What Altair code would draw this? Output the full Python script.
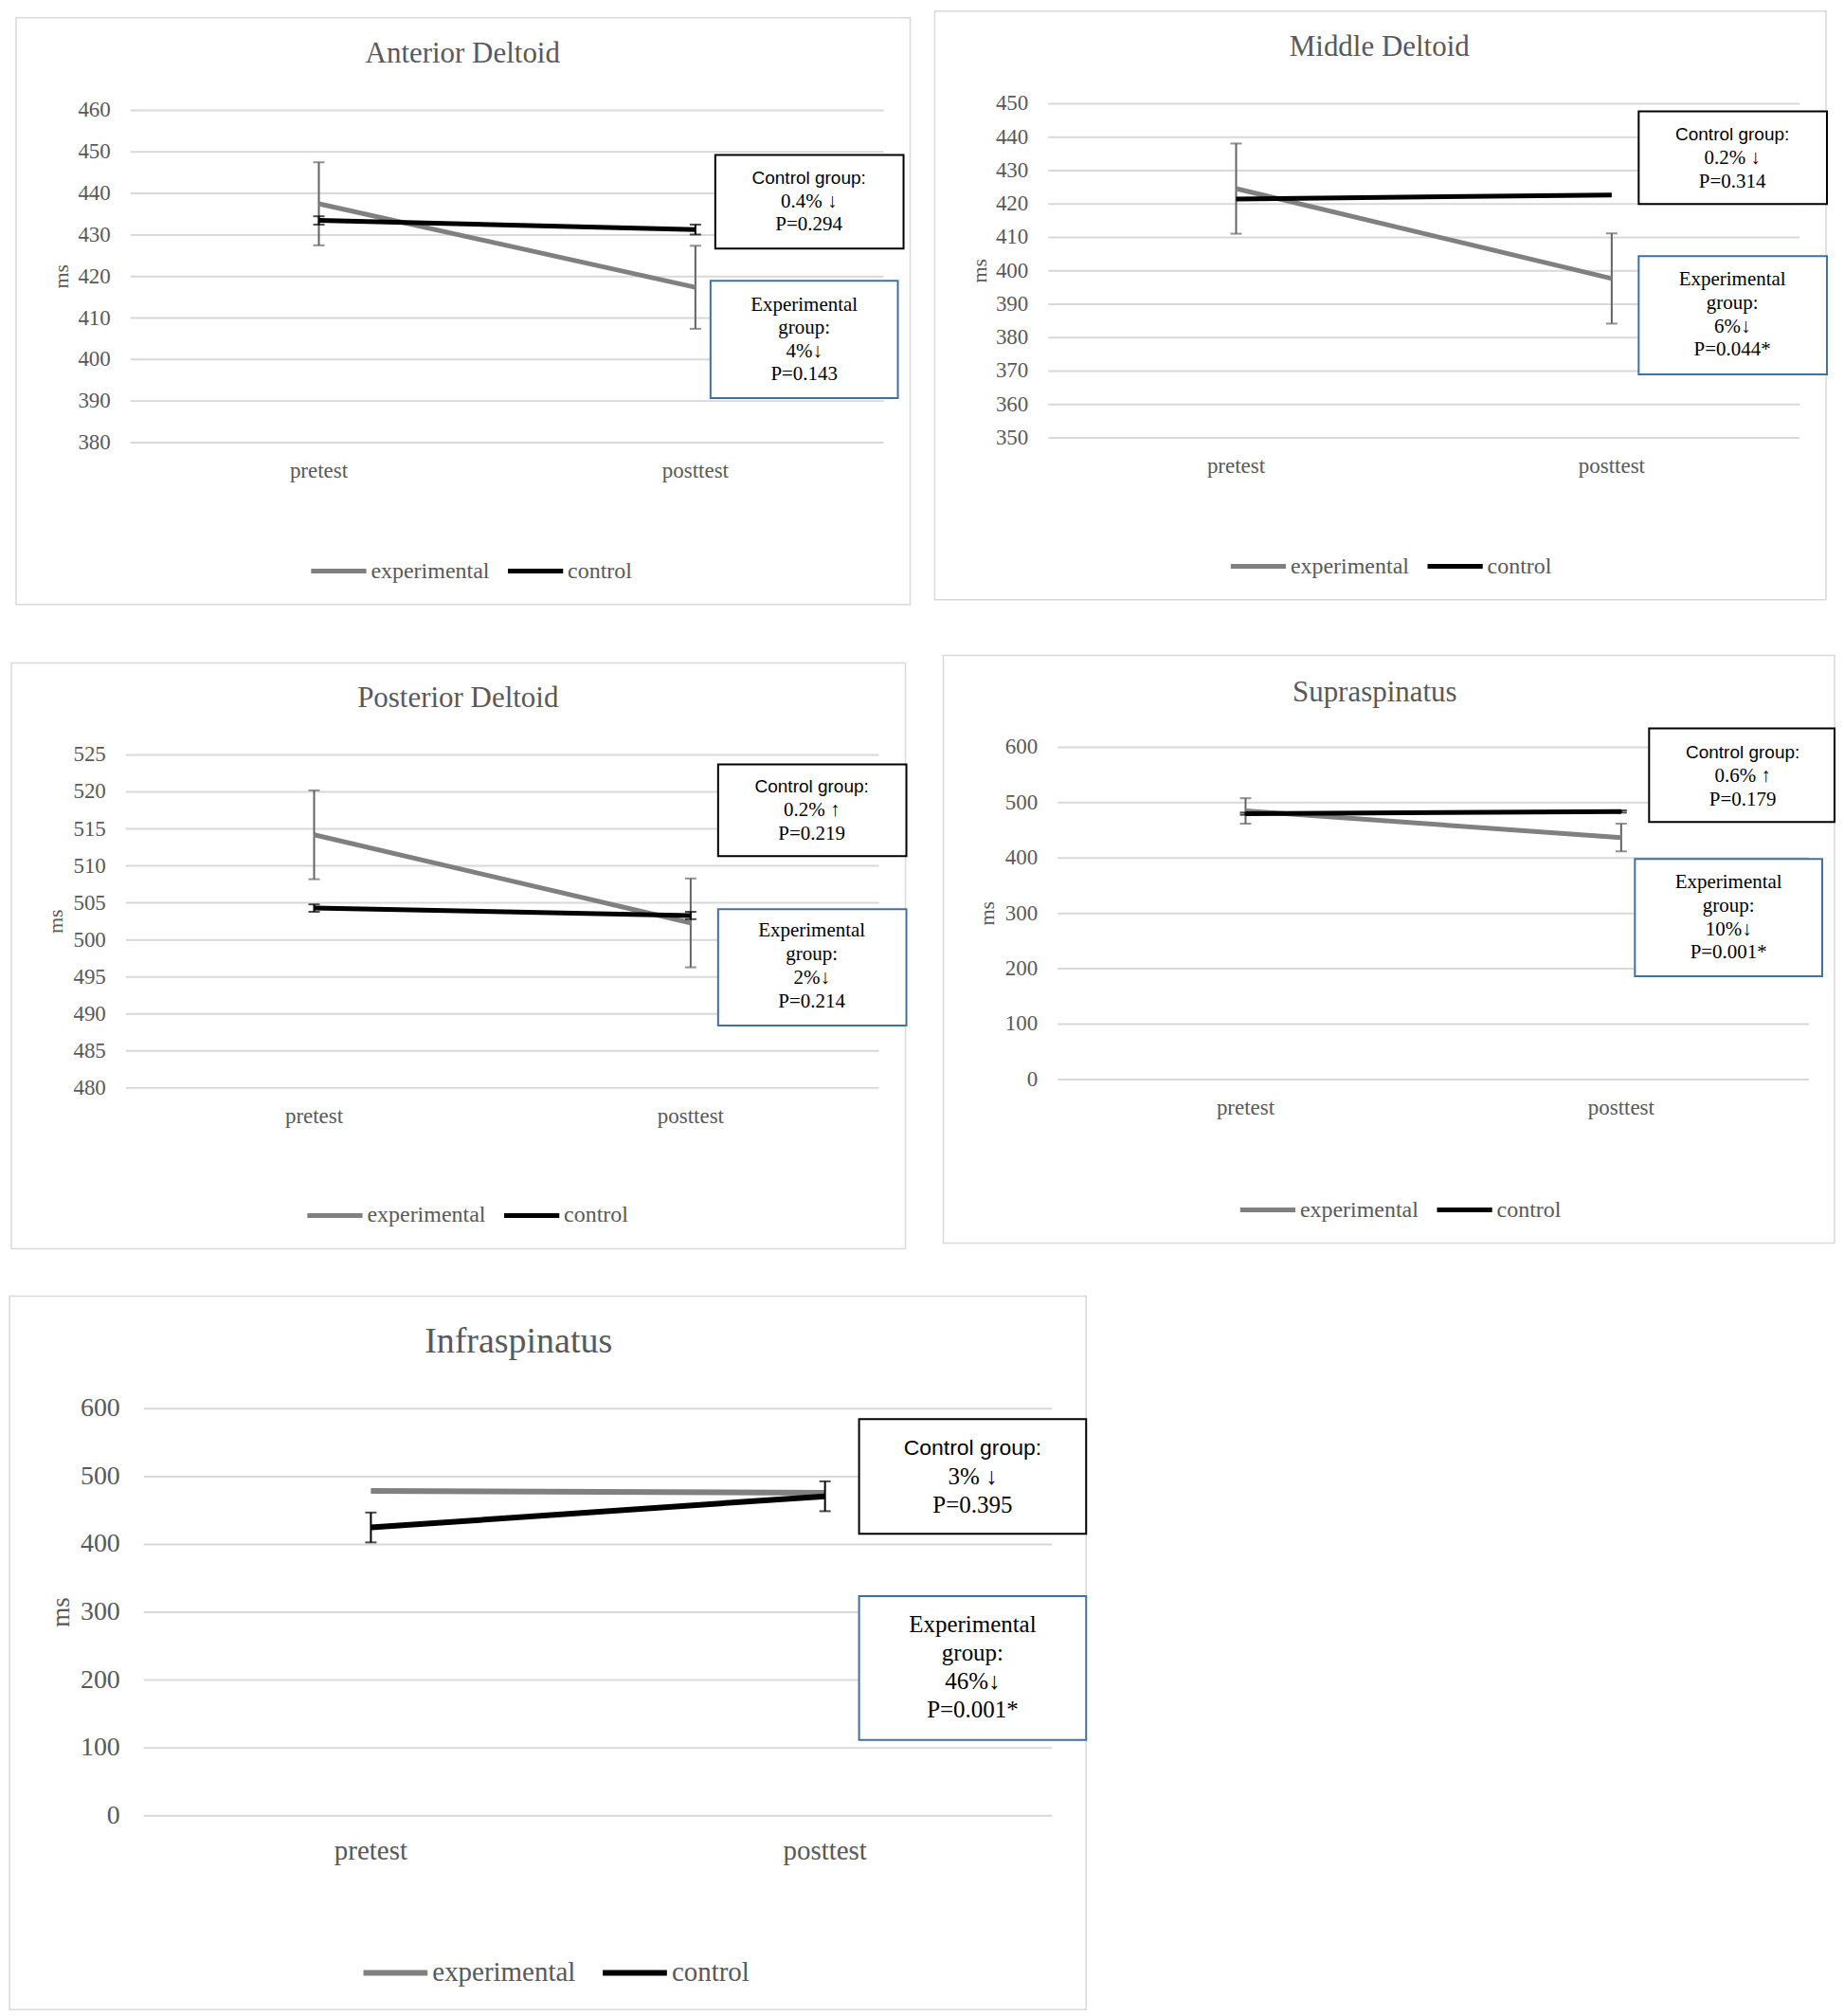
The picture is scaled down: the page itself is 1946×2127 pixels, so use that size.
import altair as alt
import pandas as pd

# ---------------- data ----------------
muscles = ["Anterior Deltoid", "Middle Deltoid", "Posterior Deltoid", "Supraspinatus", "Infraspinatus"]
phases = ["pretest", "posttest"]
groups = ["experimental", "control"]

exp_mean = [[437.5, 417.4], [424.6, 397.7], [514.2, 502.3], [485.0, 437.0], [479.0, 476.0]]
exp_err = [[10.0, 10.0], [13.5, 13.5], [6.0, 6.0], [23.0, 25.0], [0.0, 0.0]]
ctrl_mean = [[433.5, 431.3], [421.5, 422.7], [504.3, 503.3], [480.0, 484.0], [425.0, 471.0]]
ctrl_err = [[1.0, 1.2], [0.0, 0.0], [0.5, 0.5], [2.0, 2.0], [22.0, 22.0]]

y_min = [380, 350, 480, 0, 0]
y_max = [460, 450, 525, 600, 600]
y_step = [10, 10, 5, 100, 100]

ctrl_notes = [
    ["Control group:", "0.4% ↓", "P=0.294"],
    ["Control group:", "0.2% ↓", "P=0.314"],
    ["Control group:", "0.2% ↑", "P=0.219"],
    ["Control group:", "0.6% ↑", "P=0.179"],
    ["Control group:", "3% ↓", "P=0.395"],
]
exp_notes = [
    ["Experimental", "group:", "4%↓", "P=0.143"],
    ["Experimental", "group:", "6%↓", "P=0.044*"],
    ["Experimental", "group:", "2%↓", "P=0.214"],
    ["Experimental", "group:", "10%↓", "P=0.001*"],
    ["Experimental", "group:", "46%↓", "P=0.001*"],
]

# ---------------- layout (page pixels) ----------------
SERIF = "Liberation Serif"
SANS = "Liberation Sans"
GRAY = "#595959"
GRID = "#d9d9d9"

TILE = [(8, 8, 973, 662), (973, 8, 1937, 662), (8, 662, 975, 1339),
        (975, 662, 1937, 1339), (8, 1339, 1150, 2119)]
PLOT = [(137, 114, 933, 465), (1105, 107, 1899, 460), (132, 793, 928, 1145),
        (1115, 785, 1909, 1136), (151, 1482, 1111, 1912)]
BORDER = [(16, 16, 961, 636), (985, 9, 1927, 631), (11, 696, 956, 1315),
          (994, 688, 1936, 1309), (9, 1363, 1147, 2117)]
TITLE = [(488, 54), (1455, 47), (483, 734), (1450, 727), (547, 1412)]
CBOX = [(755, 161, 954, 260), (1729, 115, 1928, 213), (758, 803, 957, 900),
        (1740, 765, 1936, 864), (907, 1493, 1147, 1614)]
EBOX = [(750, 294, 948, 418), (1729, 268, 1928, 393), (758, 956, 957, 1079),
        (1725, 903, 1923, 1027), (907, 1680, 1147, 1832)]
CLINES = [(854, [186, 211, 235]), (1828, [140, 165, 190]), (857, [827, 852, 877]),
          (1839, [791, 816, 841]), (1027, [1524, 1554, 1584])]
ELINES = [(849, [320, 344, 369, 393]), (1828, [293, 318, 343, 367]),
          (857, [979, 1004, 1029, 1054]), (1824, [928, 953, 978, 1002]),
          (1027, [1710, 1740, 1770, 1800])]
LEGEND = [(325, 598), (1295, 593), (321, 1277), (1305, 1271), (380, 2075)]
MS_X = [64, 1033, 58, 1041, 64]

SMALL = dict(fs=23, xfs=23, tfs=31, lfs=24, msfs=22, nfs=21, sfs=19, sym=3400, sw=5,
             ygap=21, xgap=30, cpad=8)
BIG = dict(fs=28, xfs=29, tfs=38, lfs=29, msfs=27, nfs=25, sfs=23, sym=4600, sw=6,
           ygap=25, xgap=37, cpad=16)
STYLE = [SMALL, SMALL, SMALL, SMALL, BIG]

EN = "\u2002"
LABEL_EXPR = "datum.label == 'control' ? '" + EN * 3 + "control' : datum.label"

one = pd.DataFrame({"k": [0]})


def panel(i):
    tx0, ty0, tx1, ty1 = TILE[i]
    st = STYLE[i]

    def X(v):
        return v - tx0

    def Y(v):
        return v - ty0

    px0, py0, px1, py1 = PLOT[i]

    def rect(b, **kw):
        return alt.Chart(one).mark_rect(**kw).encode(
            x=alt.value(X(b[0])), x2=alt.value(X(b[2])),
            y=alt.value(Y(b[1])), y2=alt.value(Y(b[3])))

    def text(s, x, y, font, size, color="black", angle=0):
        kw = dict(text=s, font=font, fontSize=size, color=color, align="center", baseline="middle")
        if angle:
            kw["angle"] = angle
        return alt.Chart(one).mark_text(**kw).encode(x=alt.value(X(x)), y=alt.value(Y(y)))

    rows = []
    for g, m, e in (("experimental", exp_mean[i], exp_err[i]), ("control", ctrl_mean[i], ctrl_err[i])):
        for j, ph in enumerate(phases):
            rows.append({"group": g, "phase": ph, "value": m[j], "lo": m[j] - e[j], "hi": m[j] + e[j]})
    df = pd.DataFrame(rows)
    ticks = list(range(y_min[i], y_max[i] + 1, y_step[i]))

    xscale = alt.Scale(type="point", padding=0.5, domain=phases, range=[X(px0), X(px1)])
    yscale = alt.Scale(domain=[y_min[i], y_max[i]], range=[Y(py1), Y(py0)], nice=False, zero=False)
    xenc = alt.X("phase:N", scale=xscale, axis=None)

    lx, lcy = LEGEND[i]
    half = st["sym"] ** 0.5 / 2
    color = alt.Color("group:N",
                      scale=alt.Scale(domain=groups, range=["#808080", "#000000"]),
                      legend=alt.Legend(orient="none", legendX=X(lx), legendY=Y(lcy) - half,
                                        direction="horizontal", title=None,
                                        symbolType="stroke", symbolSize=st["sym"],
                                        symbolStrokeWidth=st["sw"], labelFont=SERIF,
                                        labelFontSize=st["lfs"], labelColor=GRAY,
                                        columnPadding=st["cpad"], labelOffset=2,
                                        labelExpr=LABEL_EXPR))

    layers = [rect(BORDER[i], fill="transparent", stroke=GRID, strokeWidth=1.5)]

    # grid lines and y labels
    tdf = pd.DataFrame({"v": ticks})
    layers.append(alt.Chart(tdf).mark_rule(color=GRID, strokeWidth=2).encode(
        y=alt.Y("v:Q", scale=yscale, axis=None), x=alt.value(X(px0)), x2=alt.value(X(px1))))
    layers.append(alt.Chart(tdf).mark_text(font=SERIF, fontSize=st["fs"], color=GRAY,
                                           align="right", baseline="middle").encode(
        y=alt.Y("v:Q", scale=yscale, axis=None), x=alt.value(X(px0 - st["ygap"])), text="v:Q"))
    # x labels
    pdf = pd.DataFrame({"phase": phases})
    layers.append(alt.Chart(pdf).mark_text(font=SERIF, fontSize=st["xfs"], color=GRAY,
                                           align="center", baseline="middle").encode(
        x=xenc, y=alt.value(Y(py1 + st["xgap"])), text="phase:N"))
    # y title
    layers.append(text("ms", MS_X[i], (py0 + py1) / 2, SERIF, st["msfs"], GRAY, angle=270))

    base = alt.Chart(df)
    for g, ec in (("experimental", "#646464"), ("control", "#000000")):
        sub = base.transform_filter(alt.datum.group == g)
        eb = sub.transform_filter("datum.hi > datum.lo")
        layers.append(eb.mark_rule(color=ec, strokeWidth=2).encode(
            x=xenc, y=alt.Y("lo:Q", scale=yscale, axis=None), y2="hi:Q"))
        layers.append(eb.mark_tick(color=ec, size=12, thickness=2).encode(
            x=xenc, y=alt.Y("lo:Q", scale=yscale, axis=None)))
        layers.append(eb.mark_tick(color=ec, size=12, thickness=2).encode(
            x=xenc, y=alt.Y("hi:Q", scale=yscale, axis=None)))
        layers.append(sub.mark_line(strokeWidth=st["sw"]).encode(
            x=xenc, y=alt.Y("value:Q", scale=yscale, axis=None), color=color))

    # annotation boxes
    layers.append(rect(CBOX[i], fill="white", stroke="black", strokeWidth=2))
    layers.append(rect(EBOX[i], fill="white", stroke="#41719c", strokeWidth=2))
    cx, cys = CLINES[i]
    for k, (s, yy) in enumerate(zip(ctrl_notes[i], cys)):
        if k == 0:
            layers.append(text(s, cx, yy, SANS, st["sfs"]))
        else:
            layers.append(text(s, cx, yy, SERIF, st["nfs"]))
    ex_, eys = ELINES[i]
    for s, yy in zip(exp_notes[i], eys):
        layers.append(text(s, ex_, yy, SERIF, st["nfs"]))

    tx, ty = TITLE[i]
    layers.append(text(muscles[i], tx, ty, SERIF, st["tfs"], GRAY))

    return alt.layer(*layers).properties(width=tx1 - tx0, height=ty1 - ty0)


p = [panel(i) for i in range(5)]
row1 = alt.hconcat(p[0], p[1], spacing=0).resolve_scale(color="independent")
row2 = alt.hconcat(p[2], p[3], spacing=0).resolve_scale(color="independent")
chart = alt.vconcat(row1, row2, p[4], spacing=0).resolve_scale(color="independent").properties(
    padding=0
).configure_view(stroke="transparent")

chart.save("out.html", embed_options={"renderer": "svg", "actions": False})
